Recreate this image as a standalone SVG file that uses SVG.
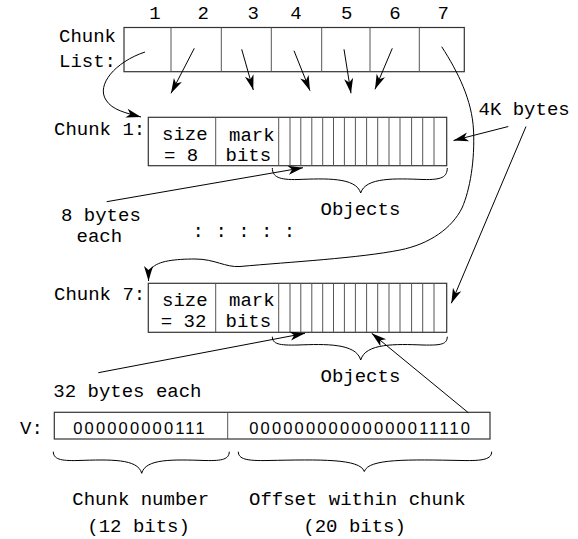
<svg xmlns="http://www.w3.org/2000/svg" width="578" height="539" viewBox="0 0 578 539">
<style>
  .t { font-family: "Liberation Mono", "Courier New", monospace; font-size: 19px; fill: #000; }
  .d { font-family: "Liberation Sans", Arial, sans-serif; font-size: 16.5px; letter-spacing: 2.15px; fill: #000; }
  .box { fill: #fff; stroke: #333; stroke-width: 1.2; }
  .div { stroke: #555; stroke-width: 1; fill: none; }
  .c { stroke: #000; stroke-width: 1; fill: none; }
  .ca { stroke: #000; stroke-width: 1; fill: none; marker-end: url(#ah); }
</style>
<defs>
  <marker id="ah" viewBox="-16 -6 17 12" refX="0" refY="0" markerWidth="17" markerHeight="12" markerUnits="userSpaceOnUse" orient="auto">
    <path d="M0,0 L-15,-4.5 L-11,0 L-15,4.5 Z" fill="#000"/>
  </marker>
</defs>

<g id="chunk-list">
  <text class="t" x="155" y="19" text-anchor="middle">1</text>
  <text class="t" x="203.3" y="19" text-anchor="middle">2</text>
  <text class="t" x="253.3" y="19" text-anchor="middle">3</text>
  <text class="t" x="296" y="19" text-anchor="middle">4</text>
  <text class="t" x="346.7" y="19" text-anchor="middle">5</text>
  <text class="t" x="395" y="19" text-anchor="middle">6</text>
  <text class="t" x="443.3" y="19" text-anchor="middle">7</text>
  <text class="t" x="59" y="42">Chunk</text>
  <text class="t" x="59" y="67">List:</text>
  <rect class="box" x="124" y="27.5" width="340.3" height="44.2"/>
  <path class="div" d="M171,27.5V71.7 M221.3,27.5V71.7 M271.3,27.5V71.7 M321.7,27.5V71.7 M370,27.5V71.7 M419.3,27.5V71.7"/>
</g>

<g id="chunk1">
  <text class="t" x="54" y="135">Chunk 1:</text>
  <rect class="box" x="148.3" y="117.3" width="298.4" height="48.4"/>
  <path class="div" d="M215.7,117.3V165.7 M278.7,117.3V165.7 M290,117.3V165.7 M300.8,117.3V165.7 M311.8,117.3V165.7 M322.7,117.3V165.7 M333.5,117.3V165.7 M344.4,117.3V165.7 M355.4,117.3V165.7 M366.6,117.3V165.7 M377.7,117.3V165.7 M389,117.3V165.7 M400,117.3V165.7 M411.6,117.3V165.7 M422.7,117.3V165.7 M434,117.3V165.7"/>
  <text class="t" x="162" y="139.5">size</text>
  <text class="t" x="164" y="161">= 8</text>
  <text class="t" x="229" y="140.5">mark</text>
  <text class="t" x="225.5" y="161">bits</text>
  <path class="c" d="M272.3,168 C272.5,177 279,180 298,179.5 C325,178.5 356,177 360.7,193 C365.5,177 396,178.5 423,179.5 C442,180 447,177 447.3,168"/>
  <text class="t" x="320.5" y="215">Objects</text>
</g>

<g id="chunk7">
  <text class="t" x="54" y="300">Chunk 7:</text>
  <rect class="box" x="148.3" y="283.3" width="298.4" height="49"/>
  <path class="div" d="M215.7,283.3V332.3 M278.7,283.3V332.3 M290,283.3V332.3 M300.8,283.3V332.3 M311.8,283.3V332.3 M322.7,283.3V332.3 M333.5,283.3V332.3 M344.4,283.3V332.3 M355.4,283.3V332.3 M366.6,283.3V332.3 M377.7,283.3V332.3 M389,283.3V332.3 M400,283.3V332.3 M411.6,283.3V332.3 M422.7,283.3V332.3 M434,283.3V332.3"/>
  <text class="t" x="162" y="306">size</text>
  <text class="t" x="160.7" y="327">= 32</text>
  <text class="t" x="229" y="306">mark</text>
  <text class="t" x="225.5" y="327">bits</text>
  <path class="c" d="M272.3,336.7 C272.5,344 279,345.5 298,345 C325,344 356,343 360.7,360 C365.5,343 396,344 423,345 C442,345.5 447,344 447.3,336.7"/>
  <text class="t" x="320.5" y="382">Objects</text>
</g>

<g id="labels">
  <text class="t" x="61" y="220.7">8 bytes</text>
  <text class="t" x="76.5" y="241.5">each</text>
  <text class="t" x="192.6" y="237">: : : : :</text>
  <text class="t" x="478.5" y="115">4K bytes</text>
  <text class="t" x="53.3" y="397">32 bytes each</text>
</g>

<g id="v-word">
  <text class="t" x="20" y="433.5">V:</text>
  <rect class="box" x="54.3" y="412.3" width="435.7" height="26.7"/>
  <path class="div" d="M227.7,412.3V439"/>
  <text class="d" x="73.3" y="434">000000000111</text>
  <text class="d" x="249.3" y="434">00000000000000011110</text>
  <path class="c" d="M53.3,451.7 C53.5,459 60,461 78,460.5 C110,459.5 138,458.5 141.7,473.3 C145.5,458.5 173,459.5 205,460.5 C223,461 229,459 229.3,451.7"/>
  <path class="c" d="M238.3,451.7 C238.5,459 246,461 268,460.5 C320,459.5 360,458.5 364.3,471.5 C368.5,458.5 408,459.5 462,460.5 C484,461 491.5,459 491.7,451.7"/>
  <text class="t" x="72.3" y="505">Chunk number</text>
  <text class="t" x="87.3" y="532">(12 bits)</text>
  <text class="t" x="249" y="505">Offset within chunk</text>
  <text class="t" x="303.3" y="532">(20 bits)</text>
</g>

<g id="connectors">
  <path class="ca" d="M145,52 C115,62 96,85 106,100 C112,110 126,113 141,117"/>
  <path class="ca" d="M194.3,48.3 L171,93.3"/>
  <path class="ca" d="M241.7,49.3 L253.3,90"/>
  <path class="ca" d="M294,50.7 L310,90.7"/>
  <path class="ca" d="M344,49.3 L351,93.3"/>
  <path class="ca" d="M392.3,48.3 L375,89.3"/>
  <path class="ca" d="M441.7,46.7 C458,72 472,100 473.5,130 C475,160 470,190 462,208 C452,228 430,244 400,250 C360,258 290,262 240,266.5 C225,267.5 215,259 195,259 C175,259 158,261 152,268 C149,272 148.5,276 148.5,281"/>
  <path class="ca" d="M508.3,126.5 L453.5,140.5"/>
  <path class="ca" d="M526,126.5 L451.3,303.3"/>
  <path class="ca" d="M106.7,201.7 L303,167.7"/>
  <path class="ca" d="M98.3,372.7 L305,333.3"/>
  <path class="ca" d="M468.3,412.7 L371.7,333.3"/>
</g>
</svg>
